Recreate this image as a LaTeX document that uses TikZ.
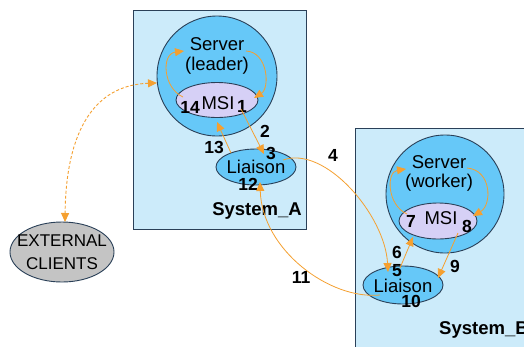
\documentclass[tikz,border=0pt]{standalone}
\usepackage{fontspec}
\setmainfont{Liberation Sans}
\usetikzlibrary{arrows.meta,shapes.geometric}

\definecolor{sysfill}{HTML}{CCEBFA}
\definecolor{srvfill}{HTML}{66C8F8}
\definecolor{msifill}{HTML}{D6D0F6}
\definecolor{edge}{HTML}{2A4058}
\definecolor{flow}{HTML}{F5A030}
\definecolor{extfill}{HTML}{C4C4C4}

\tikzset{
  sysbox/.style={draw=edge, fill=sysfill, line width=0.9pt},
  srv/.style={circle, draw=edge, fill=srvfill, line width=0.9pt, inner sep=0pt},
  msi/.style={ellipse, draw=edge, fill=msifill, line width=0.9pt, inner sep=0pt},
  liaison/.style={ellipse, draw=edge, fill=srvfill, line width=0.9pt, inner sep=0pt},
  txt/.style={inner sep=0pt, font=\fontsize{18.5}{20}\selectfont},
  exttxt/.style={inner sep=0pt, font=\fontsize{17}{19}\selectfont},
  num/.style={inner sep=0pt, font=\fontsize{17.5}{19}\selectfont\bfseries},
  sysname/.style={inner sep=0pt, font=\fontsize{18.5}{20}\selectfont\bfseries},
  flowarrow/.style={draw=flow, line width=0.8pt, -{Triangle[length=9pt,width=8pt]}},
  extarrow/.style={draw=flow, line width=0.9pt, dash pattern=on 3pt off 2pt,
    {Triangle[length=9pt,width=8pt]}-{Triangle[length=9pt,width=8pt]}},
}

\begin{document}
\begin{tikzpicture}[x=1pt, y=-1pt]
\clip (0,0) rectangle (524,346);
\fill[white] (0,0) rectangle (524,346);

% system boxes
\draw[sysbox] (133,10) rectangle (306,229);
\draw[sysbox] (355,128) rectangle (540,360);

% System_A: leader server, its MSI and liaison
\node[srv, minimum size=120pt] (srvA) at (217,76) {};
\node[msi, minimum width=82pt, minimum height=35pt] (msiA) at (217,100) {};
\node[liaison, minimum width=80pt, minimum height=36pt] (liaA) at (256,167) {};

% System_B: worker server, its MSI and liaison
\node[srv, minimum size=118pt] (srvB) at (445,194) {};
\node[msi, minimum width=78pt, minimum height=36pt] (msiB) at (438,221) {};
\node[liaison, minimum width=80pt, minimum height=38pt] (liaB) at (403,285) {};

% external clients
\node[ellipse, draw=edge, fill=extfill, line width=0.9pt, minimum width=104pt,
      minimum height=60pt, inner sep=0pt] (ext) at (62,252) {};

% texts
\node[txt] (tSrvA) at (217,44) {Server};
\node[txt] (tLeader) at (217,66) {(leader)};
\node[txt] (tMsiA) at (218,103) {MSI};
\node[txt] (tLiaA) at (256,167) {Liaison};
\node[sysname] (tSysA) at (257,211) {System\_A};

\node[txt] (tSrvB) at (439,162) {Server};
\node[txt] (tWorker) at (439,183) {(worker)};
\node[txt] (tMsiB) at (441,218) {MSI};
\node[txt] (tLiaB) at (403,286) {Liaison};
\node[sysname, anchor=west] (tSysB) at (439,330) {System\_B};

\node[exttxt] (tExt1) at (62,241) {EXTERNAL};
\node[exttxt] (tExt2) at (62,264) {CLIENTS};

% step numbers
\node[num] (n1) at (242,106) {1};
\node[num] (n2) at (265,131) {2};
\node[num] (n3) at (271,153) {3};
\node[num] (n4) at (333,155) {4};
\node[num] (n5) at (397,271) {5};
\node[num] (n6) at (397,252) {6};
\node[num] (n7) at (411,221) {7};
\node[num] (n8) at (467,226) {8};
\node[num] (n9) at (455,266) {9};
\node[num] (n10) at (411,301) {10};
\node[num] (n11) at (301,277) {11};
\node[num] (n12) at (248,184) {12};
\node[num] (n13) at (214,147) {13};
\node[num] (n14) at (190,107) {14};

% connector end points
\coordinate (a14s) at (183,97);
\coordinate (a14e) at (184,51);
\coordinate (a1s) at (246,51);
\coordinate (a1e) at (254,98);
\coordinate (a2s) at (241,109);
\coordinate (a2e) at (264,154);
\coordinate (a13s) at (231,153);
\coordinate (a13e) at (217,122);
\coordinate (a4s) at (283,160);
\coordinate (a4e) at (388,272);
\coordinate (a11s) at (380,295);
\coordinate (a11e) at (260,182);
\coordinate (a6s) at (400,268);
\coordinate (a6e) at (413,237);
\coordinate (a9s) at (458,233);
\coordinate (a9e) at (438,278);
\coordinate (a7s) at (407,214);
\coordinate (a7e) at (406,169);
\coordinate (a8s) at (467,168);
\coordinate (a8e) at (473,216);
\coordinate (xs) at (157,83);
\coordinate (xe) at (65,222);

% message flow
\draw[flowarrow] (a14s) .. controls (163,88) and (161,54) .. (a14e);
\draw[flowarrow] (a1s) .. controls (268,52) and (270,88) .. (a1e);
\draw[flowarrow] (a2s) -- (a2e);
\draw[flowarrow] (a13s) -- (a13e);
\draw[flowarrow] (a4s) .. controls (325,145) and (385,215) .. (a4e);
\draw[flowarrow] (a6s) -- (a6e);
\draw[flowarrow] (a7s) .. controls (387,205) and (386,172) .. (a7e);
\draw[flowarrow] (a8s) .. controls (492,170) and (492,205) .. (a8e);
\draw[flowarrow] (a9s) -- (a9e);
\draw[flowarrow] (a11s) .. controls (330,300) and (262,250) .. (a11e);

% link to external clients
\draw[extarrow] (xs) .. controls (95,85) and (66,130) .. (xe);
\end{tikzpicture}
\end{document}
